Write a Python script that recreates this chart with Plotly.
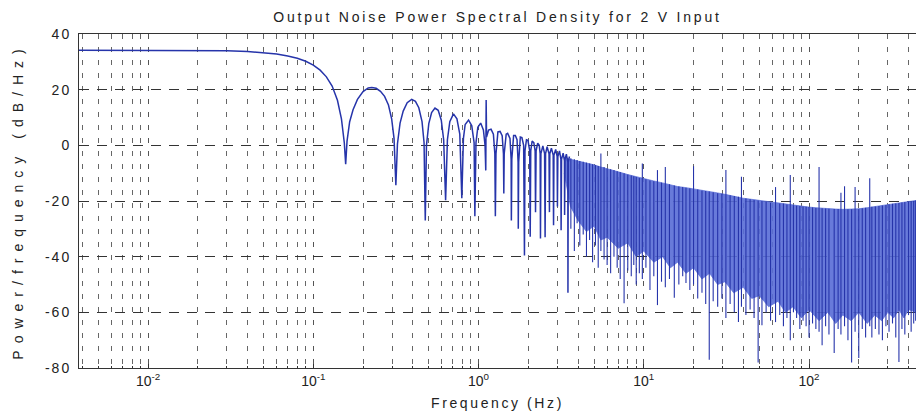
import plotly.graph_objects as go
import math

# ---------------- data ----------------
# smooth / lobed part of the PSD (Hz, dB/Hz)
freq_main = [0.00382, 0.006, 0.01, 0.015, 0.02, 0.03, 0.04, 0.05, 0.06, 0.07, 0.08, 0.09, 0.10,
             0.11, 0.12, 0.13, 0.14, 0.148, 0.154, 0.157, 0.160, 0.166, 0.174, 0.185, 0.20, 0.215,
             0.226, 0.24, 0.255, 0.27, 0.285, 0.298, 0.308, 0.316, 0.323, 0.335, 0.35, 0.37, 0.394,
             0.415, 0.435, 0.455, 0.468, 0.476, 0.484, 0.50, 0.52, 0.545, 0.57, 0.595, 0.615, 0.632,
             0.648, 0.67, 0.705, 0.74, 0.77, 0.792, 0.81, 0.83, 0.87, 0.91, 0.94, 0.95, 0.965, 0.99,
             1.03, 1.07, 1.095, 1.106, 1.112, 1.118, 1.15, 1.19, 1.23, 1.255, 1.264, 1.275, 1.31,
             1.35, 1.39, 1.415, 1.422, 1.43, 1.47, 1.5, 1.55, 1.575, 1.58, 1.59, 1.63, 1.67, 1.71,
             1.735, 1.74, 1.75, 1.79, 1.83, 1.875, 1.896, 1.91, 1.95, 1.99, 2.04, 2.054, 2.07, 2.11,
             2.16, 2.2, 2.212, 2.23, 2.28, 2.33, 2.36, 2.37, 2.385, 2.45, 2.51, 2.528, 2.545, 2.6,
             2.67, 2.686, 2.70, 2.76, 2.83, 2.844, 2.86, 2.93, 2.99, 3.002, 3.02, 3.09, 3.15, 3.16,
             3.18, 3.25, 3.31, 3.318, 3.335, 3.40, 3.47, 3.476, 3.49, 3.55]
db_main = [34.2, 34.2, 34.2, 34.2, 34.2, 34.0, 33.7, 33.3, 32.8, 32.1, 31.3, 30.2, 28.8,
           27.0, 24.6, 21.3, 16.2, 9.5, 1.0, -6.8, 1.5, 8.5, 12.8, 16.5, 19.3, 20.6,
           20.8, 20.5, 19.4, 17.6, 14.5, 9.5, 2.5, -14.3, 0.5, 8.0, 12.3, 15.3, 16.5,
           15.8, 13.5, 8.5, 1.0, -27.0, 0.0, 7.8, 11.8, 13.4, 12.6, 9.0, 2.0, -19.7,
           2.0, 8.5, 11.3, 9.5, 4.0, -19.0, 2.5, 7.5, 9.1, 7.0, 1.0, -25.5, 1.0, 6.5,
           8.0, 5.5, 0.0, -9.0, 16.3, 3.0, 5.5, 5.8, 4.0, -3.0, -25.5, -3.0, 4.8,
           5.0, 3.5, -3.0, -17.3, -3.0, 4.0, 4.3, 2.5, -5.0, -27.0, -5.0, 3.5, 3.5, 2.0,
           -6.0, -30.0, -6.0, 3.0, 2.8, 0.0, -39.6, -2.0, 2.0, 1.8, -2.0, -32.8, -2.0, 1.5,
           1.0, -2.0, -24.0, -2.0, 0.8, 0.0, -3.0, -33.5, -3.0, -0.2, -3.0, -33.0, -3.0, -0.5,
           -3.0, -24.0, -3.0, -1.0, -3.5, -28.7, -3.5, -1.5, -4.0, -22.0, -4.0, -2.0, -5.0, -30.5,
           -5.0, -2.8, -5.5, -25.0, -5.0, -3.2, -6.0, -53.0, -6.0, -4.0]

# dense high-frequency band: ragged envelope of the trace
band_freq = [3.3, 3.6, 4, 4.5, 5, 5.5, 6, 7, 8, 9, 10, 11.5, 13, 14.5, 16, 18, 20, 22.5, 25,
             28, 31, 35, 40, 45, 50, 57, 65, 72, 80, 90, 100, 115, 130, 145, 160, 180, 200, 225,
             250, 275, 300, 325, 350, 375, 400, 444]
band_top = [-4.5, -5.0, -5.5, -6.3, -7.0, -7.8, -8.5, -9.5, -10.5, -11.3, -12.0, -12.8, -13.5,
            -14.2, -14.8, -15.2, -15.6, -16.1, -16.6, -17.1, -17.6, -18.3, -19.0, -19.4, -19.8,
            -20.3, -20.8, -21.1, -21.5, -21.9, -22.2, -22.5, -22.8, -22.9, -23.0, -22.9, -22.8,
            -22.4, -22.0, -21.6, -21.3, -21.0, -20.7, -20.4, -20.2, -19.8]
band_bottom = [-10, -22, -27, -31, -29, -34, -33, -37, -35, -40, -38, -42, -40, -44, -42, -46,
               -44, -48, -46, -50, -49, -53, -51, -55, -54, -58, -56, -60, -58, -62, -59, -63,
               -60, -64, -61, -63, -60, -64, -61, -63, -60, -62, -59, -62, -59, -60]

# individual spikes inside the dense band (Hz, top dB, bottom dB)
spike_freq = [3.62, 3.8, 3.95, 4.1, 4.3, 4.5, 4.7, 4.9, 5.1, 5.3, 5.5, 5.75, 6.0, 6.3, 6.6, 6.9,
              7.2, 7.6, 8.0, 8.4, 8.7, 9.0, 9.4, 9.8, 10.3, 10.9, 11.5, 12.1, 12.8, 13.5, 14.3,
              15.3, 16.3, 17.2, 18.0, 19.0, 20.0, 21.2, 22.5, 23.7, 24.9, 26.3, 28.0, 29.7, 31.4,
              33.3, 35.3, 37.4, 39.0, 41.5, 44.0, 46.5, 49.2, 51.9, 55.0, 58.5, 62.7, 66.5, 70.0,
              73.5, 77.0, 80.5, 84.1, 88.0, 92.0, 96.0, 100.0, 105, 110, 115, 120, 126, 132, 142,
              150, 156, 164, 172, 181, 190, 200, 210, 220, 233, 240, 252, 265, 278, 292, 305, 320,
              335, 350, 365, 380, 400, 415, 430, 442]
spike_top = [-4.6, -5.0, -5.3, -5.6, -5.9, -6.2, -6.5, -6.8, -7.1, -7.4, -2.9, -7.8, -8.3, -8.6,
             -8.9, -9.3, -9.6, -10.0, -10.5, -10.8, -11.1, -11.4, -11.7, -6.5, -12.2, -12.6, -12.9,
             -8.9, -13.4, -7.8, -14.0, -14.4, -14.8, -15.0, -15.2, -15.4, -7.5, -15.9, -16.2,
             -16.4, -16.6, -16.9, -17.2, -17.4, -8.9, -17.9, -18.2, -18.5, -11.3, -19.1, -19.4,
             -19.6, -19.8, -20.0, -20.3, -20.6, -15.0, -20.9, -21.1, -21.3, -10.7, -21.5, -21.7,
             -21.8, -22.0, -22.1, -22.2, -22.3, -22.5, -7.8, -22.6, -22.7, -22.8, -22.9, -22.9,
             -17.0, -14.7, -23.0, -23.0, -15.0, -22.8, -22.6, -22.4, -11.8, -22.1, -22.0, -21.8,
             -21.6, -21.4, -21.2, -21.0, -20.9, -20.7, -20.5, -20.4, -20.2, -20.1, -20.0, -19.8]
spike_bottom = [-30, -38, -28, -36, -32, -40, -34, -42, -36, -44, -38, -41, -43, -46, -40, -44,
                -48, -56.7, -45, -47, -43, -50, -46, -48, -44, -52, -47, -57.4, -49, -51, -48,
                -54.8, -50, -47, -49.5, -52, -50, -55, -53, -57, -77, -56, -58, -55, -62,
                -57, -60, -63.5, -58, -61, -59, -62, -78, -64.6, -60, -63, -63.5, -61, -65,
                -62, -70, -60, -62, -66, -63, -65, -69, -64, -66, -67, -71.8, -65, -68, -74.6,
                -66, -68, -65, -70, -78, -67, -76.4, -66, -69, -65, -69, -66, -68, -70, -65, -67,
                -64, -69, -77.8, -66, -68, -61, -67, -64, -63]

# axis ticks
x_tick_vals = [0.01, 0.1, 1, 10, 100]
x_tick_text = ['10<sup>-2</sup>', '10<sup>-1</sup>', '10<sup>0</sup>', '10<sup>1</sup>', '10<sup>2</sup>']
y_tick_vals = [-80, -60, -40, -20, 0, 20, 40]
y_tick_text = ['-80', '-60', '-40', '-20', '0', '20', '40']

title_text = 'Output Noise Power Spectral Density for 2 V Input'
x_title = 'Frequency (Hz)'
y_title = 'Power/frequency (dB/Hz)'

# ---------------- figure ----------------
LINE = 'rgb(38,52,170)'
BAND = 'rgba(88,108,214,0.9)'
FONT = 'Liberation Sans, Arial, sans-serif'

fig = go.Figure()

fig.add_trace(go.Scatter(x=band_freq, y=band_bottom, mode='lines',
                         line=dict(width=0.8, color=BAND), hoverinfo='skip', showlegend=False))
fig.add_trace(go.Scatter(x=band_freq, y=band_top, mode='lines', fill='tonexty',
                         fillcolor=BAND, line=dict(width=0.8, color=BAND),
                         hoverinfo='skip', showlegend=False))

sx, sy = [], []
for f, t, b in zip(spike_freq, spike_top, spike_bottom):
    sx += [f, f, None]
    sy += [t, b, None]
fig.add_trace(go.Scatter(x=sx, y=sy, mode='lines', line=dict(width=1.1, color=LINE),
                         showlegend=False, hoverinfo='skip'))

fig.add_trace(go.Scatter(x=freq_main, y=db_main, mode='lines',
                         line=dict(width=1.5, color=LINE), showlegend=False))

# minor grid positions (2..9 x 10^n)
x_lo, x_hi = 0.00382, 444.0
minor_vals = []
for n in range(-3, 3):
    for k in range(2, 10):
        v = k * 10.0 ** n
        if x_lo <= v <= x_hi:
            minor_vals.append(v)

fig.update_layout(
    width=916, height=416,
    margin=dict(l=79, r=0, t=34, b=48),
    paper_bgcolor='white', plot_bgcolor='white',
    font=dict(family=FONT, size=14, color='#222'),
    title=dict(text=title_text, xref='paper', x=0.5, xanchor='center', y=0.958, yanchor='middle',
               font=dict(family=FONT, size=14, color='#222')),
    showlegend=False,
)

fig.update_xaxes(
    type='log', range=[math.log10(x_lo), math.log10(x_hi)],
    tickmode='array', tickvals=x_tick_vals, ticktext=x_tick_text,
    showgrid=True, gridcolor='#555', griddash='5px,8px', gridwidth=1,
    minor=dict(tickmode='array', tickvals=minor_vals, showgrid=True, gridcolor='#666',
               griddash='5px,8px', gridwidth=1, ticks='inside', ticklen=2, tickcolor='#333'),
    showline=True, linecolor='#333', linewidth=1, mirror=True,
    ticks='inside', ticklen=4, tickcolor='#333',
    tickfont=dict(family=FONT, size=14, color='#222'),
    zeroline=False,
    title=dict(text=x_title, font=dict(family=FONT, size=14, color='#222'), standoff=10),
)
fig.update_yaxes(
    range=[-80, 40], tickmode='array', tickvals=y_tick_vals, ticktext=y_tick_text,
    showgrid=True, gridcolor='#333', griddash='10px,8px', gridwidth=1,
    showline=True, linecolor='#333', linewidth=1, mirror=False,
    ticks='inside', ticklen=5, tickcolor='#333', ticklabelstandoff=4,
    tickfont=dict(family=FONT, size=14, color='#222'),
    zeroline=False,
    title=dict(text=y_title, font=dict(family=FONT, size=14, color='#222'), standoff=24),
)

post = """
var gd = document.getElementById('{plot_id}');
function sp(sel, v){ gd.querySelectorAll(sel).forEach(function(e){ e.style.letterSpacing = v; }); }
sp('.ytitle', '7px');
sp('.xtitle', '2.6px');
sp('.gtitle', '2.8px');
sp('.ytick text', '2px');
"""
fig.write_html("out.html", post_script=post)
